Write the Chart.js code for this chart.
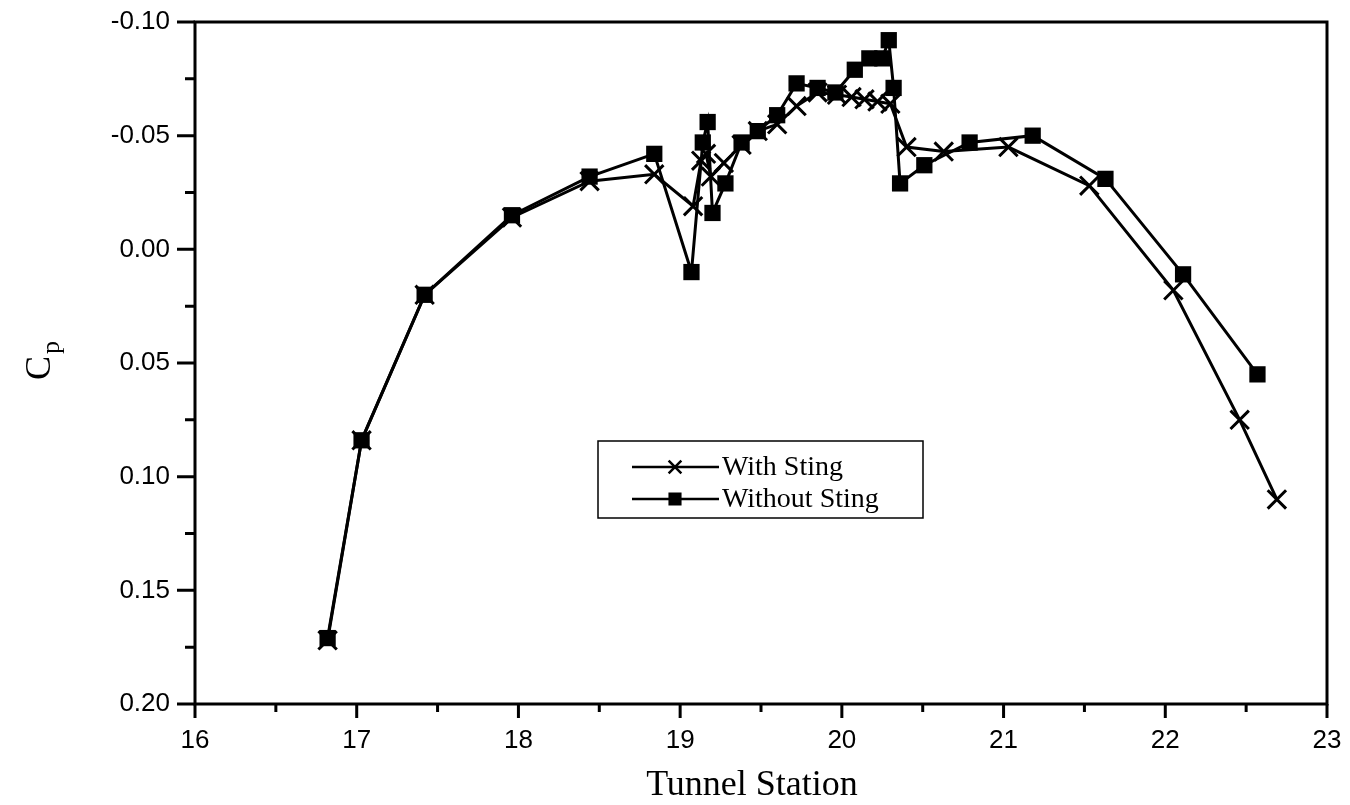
<!DOCTYPE html>
<html>
<head>
<meta charset="utf-8">
<title>Cp vs Tunnel Station</title>
<script src="https://cdn.jsdelivr.net/npm/chart.js@4/dist/chart.umd.min.js"></script>
<style>
  html, body { margin: 0; padding: 0; background: #fff; }
  canvas { display: block; }
</style>
</head>
<body>
<canvas id="cpChart" width="1350" height="805"></canvas>
<script>
// Pressure coefficient along the tunnel, model with and without the sting

const stationWith = [16.82, 17.03, 17.42, 17.96, 18.44, 18.84, 19.08, 19.13, 19.16, 19.19, 19.27,
  19.38, 19.48, 19.60, 19.72, 19.85, 19.97, 20.06, 20.14, 20.22, 20.30, 20.40, 20.63, 21.03,
  21.53, 22.05, 22.46, 22.69];
const cpWith = [0.172, 0.084, 0.020, -0.014, -0.030, -0.033, -0.019, -0.039, -0.042, -0.032, -0.038,
  -0.046, -0.052, -0.055, -0.063, -0.069, -0.068, -0.067, -0.066, -0.065, -0.064, -0.045, -0.043, -0.045,
  -0.028, 0.018, 0.075, 0.110];

const stationWithout = [16.82, 17.03, 17.42, 17.96, 18.44, 18.84, 19.07, 19.14, 19.17, 19.20, 19.28,
  19.38, 19.48, 19.60, 19.72, 19.85, 19.96, 20.08, 20.17, 20.25, 20.29, 20.32, 20.36, 20.51, 20.79,
  21.18, 21.63, 22.11, 22.57];
const cpWithout = [0.171, 0.084, 0.020, -0.015, -0.032, -0.042, 0.010, -0.047, -0.056, -0.016, -0.029,
  -0.047, -0.052, -0.059, -0.073, -0.071, -0.069, -0.079, -0.084, -0.084, -0.092, -0.071, -0.029, -0.037,
  -0.047, -0.050, -0.031, 0.011, 0.055];

const seriesLabels = ['With Sting', 'Without Sting'];
const xTitle = 'Tunnel Station';

const serif = '"Liberation Serif", "Times New Roman", serif';
const sans = '"Liberation Sans", Arial, sans-serif';

const toPoints = (xs, ys) => xs.map((x, i) => ({ x: x, y: ys[i] }));

// keep the plot box where the layout padding puts it
const noScalePadding = s => {
  s.paddingTop = 0;
  s.paddingBottom = 0;
  s.paddingLeft = 0;
  s.paddingRight = 0;
};

// box around the plot, outward ticks (major + minor)
const frameAndTicks = {
  id: 'frameAndTicks',
  afterDraw(chart) {
    const { ctx, chartArea: a, scales } = chart;
    ctx.save();
    ctx.strokeStyle = '#000';
    ctx.lineWidth = 3;
    ctx.strokeRect(a.left, a.top, a.right - a.left, a.bottom - a.top);

    ctx.beginPath();
    scales.x.ticks.forEach(t => {
      const px = scales.x.getPixelForValue(t.value);
      const len = Number.isInteger(t.value) ? 14 : 8;
      ctx.moveTo(px, a.bottom);
      ctx.lineTo(px, a.bottom + len);
    });
    scales.y.ticks.forEach(t => {
      const py = scales.y.getPixelForValue(t.value);
      const major = Math.abs(Math.round(t.value * 1000)) % 50 === 0;
      const len = major ? 18 : 10;
      ctx.moveTo(a.left, py);
      ctx.lineTo(a.left - len, py);
    });
    ctx.stroke();
    ctx.restore();
  }
};

// axis titles: "Tunnel Station" and rotated "Cp" with subscript
const axisTitles = {
  id: 'axisTitles',
  afterDraw(chart) {
    const { ctx } = chart;
    ctx.save();
    ctx.fillStyle = '#000';
    ctx.textAlign = 'center';
    ctx.textBaseline = 'alphabetic';
    ctx.font = '36px ' + serif;
    ctx.fillText(xTitle, 752, 795);

    ctx.textAlign = 'left';
    ctx.translate(50, 380);
    ctx.rotate(-Math.PI / 2);
    ctx.font = '36px ' + serif;
    ctx.fillText('C', 0, 0);
    const w = ctx.measureText('C').width;
    ctx.font = '26px ' + serif;
    ctx.fillText('p', w + 2, 9);
    ctx.restore();
  }
};

// boxed legend inside the plot
const boxLegend = {
  id: 'boxLegend',
  afterDraw(chart) {
    const { ctx } = chart;
    const box = { left: 598, top: 441, right: 923, bottom: 518 };
    ctx.save();
    ctx.fillStyle = '#fff';
    ctx.fillRect(box.left, box.top, box.right - box.left, box.bottom - box.top);
    ctx.strokeStyle = '#000';
    ctx.lineWidth = 1.5;
    ctx.strokeRect(box.left, box.top, box.right - box.left, box.bottom - box.top);

    const rows = [467, 499];
    chart.data.datasets.forEach((ds, i) => {
      const y = rows[i];
      ctx.strokeStyle = '#000';
      ctx.lineWidth = 2.5;
      ctx.beginPath();
      ctx.moveTo(632, y);
      ctx.lineTo(719, y);
      ctx.stroke();
      ctx.fillStyle = '#000';
      Chart.helpers.drawPoint(ctx, {
        pointStyle: ds.pointStyle,
        radius: ds.pointStyle === 'rect' ? 7.5 : 9,
        rotation: 0,
        borderWidth: 2.5
      }, 675, y);
      ctx.font = '28px ' + serif;
      ctx.textBaseline = 'middle';
      ctx.fillText(ds.label, 722, y + 1);
    });
    ctx.restore();
  }
};

new Chart(document.getElementById('cpChart'), {
  type: 'line',
  data: {
    datasets: [{
      label: seriesLabels[0],
      data: toPoints(stationWith, cpWith),
      borderColor: '#000',
      borderWidth: 3,
      pointStyle: 'crossRot',
      pointRadius: 13,
      pointBorderWidth: 3,
      pointBorderColor: '#000',
      pointBackgroundColor: '#000',
      tension: 0,
      order: 2
    }, {
      label: seriesLabels[1],
      data: toPoints(stationWithout, cpWithout),
      borderColor: '#000',
      borderWidth: 3,
      pointStyle: 'rect',
      pointRadius: 11.5,
      pointBorderWidth: 0,
      pointBorderColor: '#000',
      pointBackgroundColor: '#000',
      tension: 0,
      order: 1
    }]
  },
  options: {
    responsive: false,
    devicePixelRatio: 1,
    animation: false,
    clip: false,
    layout: { padding: { left: 0, right: 23, top: 22, bottom: 0 } },
    plugins: {
      legend: { display: false },
      tooltip: { enabled: false }
    },
    scales: {
      x: {
        type: 'linear',
        min: 16,
        max: 23,
        afterFit: s => { s.height = 101; noScalePadding(s); },
        grid: { display: false },
        border: { display: false },
        ticks: {
          stepSize: 0.5,
          autoSkip: false,
          maxRotation: 0,
          padding: 13,
          color: '#000',
          font: { family: sans, size: 26 },
          callback: v => Number.isInteger(v) ? String(v) : ''
        }
      },
      y: {
        type: 'linear',
        reverse: true,
        min: -0.10,
        max: 0.20,
        afterFit: s => { s.width = 195; noScalePadding(s); },
        grid: { display: false },
        border: { display: false },
        ticks: {
          stepSize: 0.025,
          autoSkip: false,
          padding: 17,
          color: '#000',
          font: { family: sans, size: 26 },
          callback: v => {
            const r = Math.round(v * 1000);
            if (Math.abs(r) % 50 !== 0) return '';
            return (r === 0 ? 0 : r / 1000).toFixed(2);
          }
        }
      }
    }
  },
  plugins: [frameAndTicks, axisTitles, boxLegend]
});
</script>
</body>
</html>
